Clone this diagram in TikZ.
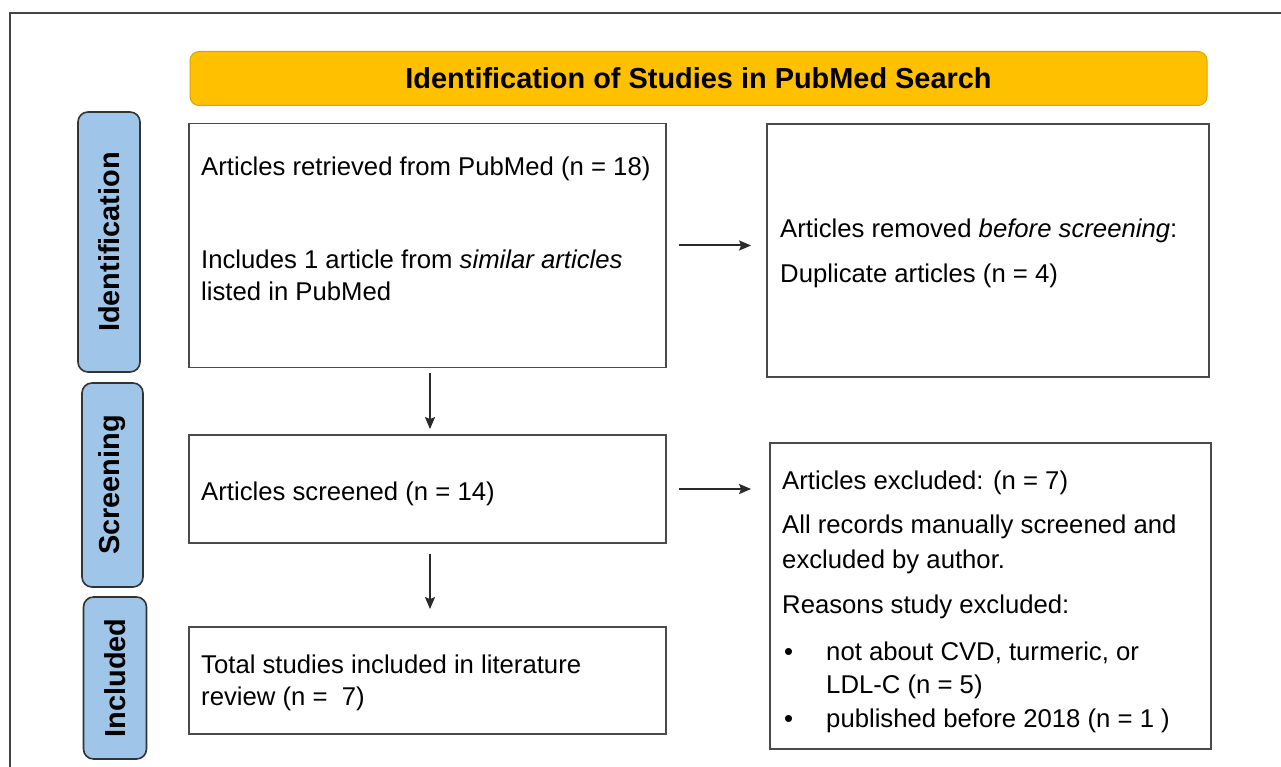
\documentclass[tikz,border=0pt]{standalone}
\usepackage{fontspec}
\setmainfont{Liberation Sans}
\usetikzlibrary{arrows.meta}
\definecolor{sideblue}{HTML}{9FC5E8}
\definecolor{sidedraw}{HTML}{333333}
\definecolor{headfill}{HTML}{FFC000}
\definecolor{headdraw}{HTML}{D9A400}
\definecolor{boxgray}{HTML}{4A4A4A}
\definecolor{arrowgray}{HTML}{2A2A2A}
\definecolor{framegray}{HTML}{444444}
\newcommand\bodyfs{\fontsize{25.7}{30}\selectfont}
\newcommand\headfs{\fontsize{28.9}{34}\selectfont\bfseries}
\tikzset{
  stagebox/.style={draw=boxgray, line width=1.8pt, rectangle, inner sep=0pt},
  sidebox/.style={draw=sidedraw, fill=sideblue, rounded corners=10pt, line width=1.6pt, inner sep=0pt},
  headbox/.style={draw=headdraw, fill=headfill, rounded corners=9pt, line width=1pt, inner sep=0pt, font=\headfs},
  bodytxt/.style={anchor=base west, inner sep=0pt, font=\bodyfs},
  sidetxt/.style={inner sep=0pt, font=\headfs, rotate=90},
  arr/.style={-{Stealth[length=12pt,width=10pt,inset=2pt]}, line width=2pt, draw=arrowgray}
}
\begin{document}
\begin{tikzpicture}[x=1pt,y=-1pt]
\useasboundingbox (0,0) rectangle (1281,767);
\draw[framegray, line width=1.6pt] (10,770) -- (10,13) -- (1285,13);

% header
\node[headbox, minimum width=1017pt, minimum height=54pt] (head) at (698.5,78.5) {Identification of Studies in PubMed Search};

% side labels
\node[sidebox, minimum width=62pt, minimum height=260pt] (sid) at (109,242) {};
\node[sidetxt] (sidt) at (sid.center) {Identification};
\node[sidebox, minimum width=61pt, minimum height=204pt] (sscr) at (112.5,485) {};
\node[sidetxt] (sscrt) at (sscr.center) {Screening};
\node[sidebox, minimum width=63pt, minimum height=162pt] (sinc) at (115,678) {};
\node[sidetxt] (sinct) at (sinc.center) {Included};

% boxes
\node[stagebox, minimum width=477pt, minimum height=244pt] (b1) at (427.5,245.5) {};
\node[stagebox, minimum width=442pt, minimum height=253pt] (r1) at (988,250.5) {};
\node[stagebox, minimum width=477pt, minimum height=108pt] (b2) at (427.5,489) {};
\node[stagebox, minimum width=441pt, minimum height=306pt] (r2) at (990.5,596) {};
\node[stagebox, minimum width=477pt, minimum height=107pt] (b3) at (427.5,680.5) {};

% texts box 1
\node[bodytxt] (t11) at (201,176) {Articles retrieved from PubMed (n = 18)};
\node[bodytxt] (t12) at (201,269) {Includes 1 article from \textit{similar articles}};
\node[bodytxt] (t13) at (201,300) {listed in PubMed};
% right 1
\node[bodytxt] (t21) at (780,237) {Articles removed \textit{before screening}:};
\node[bodytxt] (t22) at (780,282) {Duplicate articles (n = 4)};
% box 2
\node[bodytxt] (t31) at (201,500) {Articles screened (n = 14)};
% right 2
\node[bodytxt] (t41) at (782,489) {Articles excluded: (n = 7)};
\node[bodytxt] (t42) at (782,533) {All records manually screened and};
\node[bodytxt] (t43) at (782,568) {excluded by author.};
\node[bodytxt] (t44) at (782,613) {Reasons study excluded:};
\node[bodytxt] (bu1) at (784,660) {•};
\node[bodytxt] (t45) at (826,660) {not about CVD, turmeric, or};
\node[bodytxt] (t46) at (826,693) {LDL-C (n = 5)};
\node[bodytxt] (bu2) at (784,727) {•};
\node[bodytxt] (t47) at (826,727) {published before 2018 (n = 1 )};
% box 3
\node[bodytxt] (t51) at (201,673) {Total studies included in literature};
\node[bodytxt] (t52) at (201,705) {review (n =\ \ 7)};

% arrows
\draw[arr, shorten <=12pt, shorten >=15pt] (b1.east) -- (b1.east -| r1.west);
\draw[arr, shorten <=12pt, shorten >=18pt] (b2.east) -- (b2.east -| r2.west);
\draw[arr, shorten <=5pt, shorten >=5pt] ([xshift=2.5pt]b1.south) -- ([xshift=2.5pt]b2.north);
\draw[arr, shorten <=10pt, shorten >=17pt] ([xshift=2.5pt]b2.south) -- ([xshift=2.5pt]b3.north);
\end{tikzpicture}
\end{document}
